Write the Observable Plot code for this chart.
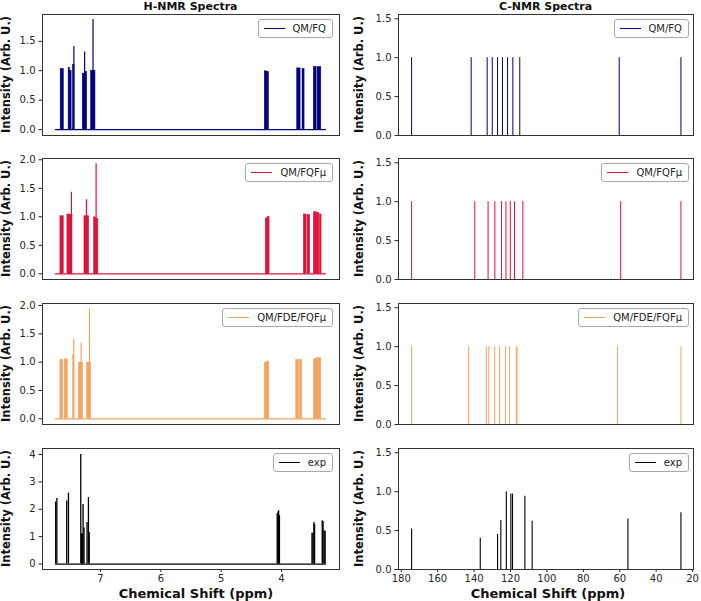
<!DOCTYPE html>
<html>
<head>
<meta charset="utf-8">
<script src="https://cdn.jsdelivr.net/npm/d3@7"></script>
<script src="https://cdn.jsdelivr.net/npm/@observablehq/plot@0.6"></script>
<style>
  body { margin: 0; background: #fff; font-family: "DejaVu Sans", sans-serif; }
  #fig { position: relative; width: 701px; height: 601px; overflow: hidden; background: #fff; }
  .panel { position: absolute; }
  .panel svg { overflow: visible; display: block; }
  .legend { position: absolute; height: 19px; box-sizing: border-box; border: 1px solid #a8a8a8; border-radius: 3px;
            background: rgba(255,255,255,0.85); display: flex; align-items: center; padding: 0 6px 0 5px;
            font-size: 10px; color: #222; white-space: nowrap; }
  .legend .sw { width: 21px; height: 0; border-top: 1.5px solid; margin-right: 8px; }
  #overlay { position: absolute; left: 0; top: 0; pointer-events: none; }
</style>
</head>
<body>
<div id="fig"></div>
<script>
// ---------------- data ----------------
// H-NMR: simulated spectra span (ppm)
const hRange = [7.746, 3.271];

// QM/FQ  : multiplet blocks [from ppm, to ppm, intensity] and sharp peaks [ppm, intensity]
const hFQBlocks = [
  [7.658, 7.608, 1.03], [7.527, 7.505, 1.05], [7.505, 7.478, 1.00], [7.454, 7.430, 1.10],
  [7.293, 7.262, 0.95], [7.258, 7.221, 0.98], [7.154, 7.083, 1.00],
  [4.277, 4.245, 0.99], [4.245, 4.211, 0.98], [3.740, 3.685, 1.04], [3.652, 3.619, 1.03],
  [3.464, 3.420, 1.06], [3.403, 3.342, 1.06]
];
const hFQPeaks = [[7.440, 1.41], [7.262, 1.32], [7.123, 1.87]];

// QM/FQFμ
const hFQFmuBlocks = [
  [7.663, 7.608, 1.01], [7.547, 7.497, 1.04], [7.497, 7.464, 1.03], [7.265, 7.188, 1.01],
  [7.106, 7.072, 0.99], [7.072, 7.035, 0.96],
  [4.262, 4.230, 0.97], [4.230, 4.199, 1.00], [3.630, 3.586, 1.04], [3.569, 3.526, 1.03],
  [3.464, 3.420, 1.08], [3.420, 3.375, 1.07], [3.364, 3.337, 1.04]
];
const hFQFmuPeaks = [[7.481, 1.43], [7.232, 1.30], [7.072, 1.93]];

// QM/FDE/FQFμ
const hFDEBlocks = [
  [7.663, 7.619, 1.04], [7.592, 7.542, 1.05], [7.452, 7.432, 1.12], [7.360, 7.288, 0.99],
  [7.222, 7.156, 0.99],
  [4.277, 4.240, 0.99], [4.240, 4.205, 1.01], [3.756, 3.713, 1.04], [3.696, 3.657, 1.04],
  [3.464, 3.420, 1.05], [3.420, 3.381, 1.07], [3.381, 3.342, 1.07]
];
const hFDEPeaks = [[7.443, 1.41], [7.320, 1.34], [7.182, 1.94]];

// experimental H-NMR line list
const hExpShift = [7.742, 7.722, 7.559, 7.530, 7.326, 7.312, 7.300, 7.288, 7.272,
                   7.222, 7.199, 7.186, 4.072, 4.060, 4.048, 4.035,
                   3.496, 3.480, 3.465, 3.453, 3.326, 3.312, 3.294, 3.278];
const hExpInt   = [2.27, 2.39, 2.30, 2.59, 4.00, 1.10, 1.10, 2.17, 1.32,
                   1.52, 2.43, 1.15, 1.83, 1.90, 1.95, 1.77,
                   1.12, 1.12, 1.52, 1.45, 1.58, 1.55, 1.22, 1.20];

// C-NMR line lists
const cFQShift     = [174.3, 141.6, 132.8, 130.0, 127.1, 124.4, 121.6, 118.7, 114.9, 60.3, 26.4];
const cFQInt       = [1, 1, 1, 1, 1, 1, 1, 1, 1, 1, 1];
const cFQFmuShift  = [174.3, 139.6, 132.3, 128.6, 124.9, 122.5, 120.1, 117.8, 113.2, 59.5, 26.4];
const cFQFmuInt    = [1, 1, 1, 1, 1, 1, 1, 1, 1, 1, 1];
const cFDEShift    = [174.3, 143.0, 133.3, 131.9, 128.7, 126.0, 122.7, 120.5, 116.8, 116.4, 61.2, 26.4];
const cFDEInt      = [1, 1, 1, 1, 1, 1, 1, 1, 1, 1, 1, 1];
const cExpShift    = [174.3, 136.6, 127.1, 125.3, 122.3, 119.8, 118.9, 112.1, 108.1, 55.5, 26.4];
const cExpInt      = [0.52, 0.40, 0.45, 0.63, 1.00, 0.97, 0.97, 0.94, 0.62, 0.65, 0.73];

// labels
const seriesNames = ["QM/FQ", "QM/FQFμ", "QM/FDE/FQFμ", "exp"];
const seriesColors = ["navy", "crimson", "sandybrown", "black"];
const colTitles = ["H-NMR Spectra", "C-NMR Spectra"];
const hTicks = [7, 6, 5, 4];
const cTicks = [180, 160, 140, 120, 100, 80, 60, 40, 20];
const yLabel = "Intensity (Arb. U.)";
const xLabel = "Chemical Shift (ppm)";

// ---------------- layout ----------------
const fig = document.getElementById("fig");
const rowTops = [14, 158, 303, 448];
const frameH = 121;
const cols = [
  {left: 0, width: 350, mL: 42, mR: 11, xDomain: [7.96, 3.04], ticks: hTicks},
  {left: 350, width: 351, mL: 48, mR: 8, xDomain: [181.5, 19.5], ticks: cTicks}
];
const hYDomains = [[-0.1, 1.955], [-0.1, 2.023], [-0.1, 2.035], [-0.2, 4.22]];
const hYTicks = [[0, 0.5, 1, 1.5], [0, 0.5, 1, 1.5, 2], [0, 0.5, 1, 1.5, 2], [0, 1, 2, 3, 4]];
const cYDomain = [0, 1.555];
const cYTicks = [0, 0.5, 1, 1.5];

function hMarks(blocks, peaks, color) {
  return [
    Plot.line(hRange.map(x => ({x, y: 0})), {x: "x", y: "y", stroke: color, strokeWidth: 1.2}),
    Plot.rect(blocks, {x1: d => d[0], x2: d => d[1], y1: 0, y2: d => d[2], fill: color, stroke: color, strokeWidth: 0.6}),
    Plot.ruleX(peaks, {x: d => d[0], y1: 0, y2: d => d[1], stroke: color, strokeWidth: 1.2})
  ];
}
function stickMarks(shift, inten, color, w) {
  const rows = shift.map((s, i) => ({s, v: inten[i]}));
  return [Plot.ruleX(rows, {x: "s", y1: 0, y2: "v", stroke: color, strokeWidth: w})];
}

const hData = [
  hMarks(hFQBlocks, hFQPeaks, seriesColors[0]),
  hMarks(hFQFmuBlocks, hFQFmuPeaks, seriesColors[1]),
  hMarks(hFDEBlocks, hFDEPeaks, seriesColors[2]),
  [Plot.line(hRange.map(x => ({x, y: 0})), {x: "x", y: "y", stroke: "black", strokeWidth: 1.2}),
   ...stickMarks(hExpShift, hExpInt, "black", 1.3)]
];
const cData = [
  stickMarks(cFQShift, cFQInt, seriesColors[0], 1),
  stickMarks(cFQFmuShift, cFQFmuInt, seriesColors[1], 1),
  stickMarks(cFDEShift, cFDEInt, seriesColors[2], 1),
  stickMarks(cExpShift, cExpInt, "black", 1.1)
];

const mT = 10;
for (let c = 0; c < 2; c++) {
  const col = cols[c];
  for (let r = 0; r < 4; r++) {
    const last = r === 3;
    const mB = last ? 26 : 3;
    const yDomain = c === 0 ? hYDomains[r] : cYDomain;
    const yTicks = c === 0 ? hYTicks[r] : cYTicks;
    const yFmt = (c === 0 && r === 3) ? d3.format("d") : d3.format(".1f");
    const marks = [];
    if (c === 1) marks.push(Plot.ruleY([0], {stroke: "#111", strokeWidth: 1.2}));
    marks.push(...(c === 0 ? hData[r] : cData[r]));
    marks.push(Plot.axisY({ticks: yTicks, tickFormat: yFmt, tickSize: 3.5, tickPadding: 3.5, label: null}));
    if (last) marks.push(Plot.axisX({ticks: col.ticks, tickFormat: d3.format("d"), tickSize: 3, tickPadding: 2, label: null}));
    marks.push(Plot.frame({stroke: "#333", strokeWidth: 1}));
    const p = Plot.plot({
      width: col.width,
      height: mT + frameH + mB,
      marginTop: mT, marginBottom: mB, marginLeft: col.mL, marginRight: col.mR,
      style: {fontFamily: "DejaVu Sans", fontSize: "10px", color: "#262626", background: "transparent", overflow: "visible"},
      x: {domain: col.xDomain, axis: last ? undefined : null},
      y: {domain: yDomain},
      marks
    });
    const wrap = document.createElement("div");
    wrap.className = "panel";
    wrap.style.left = col.left + "px";
    wrap.style.top = (rowTops[r] - mT) + "px";
    wrap.appendChild(p);
    fig.appendChild(wrap);

    // legend
    const lg = document.createElement("div");
    lg.className = "legend";
    const frameRight = col.left + col.width - col.mR;
    lg.style.right = (701 - (frameRight - (c === 0 ? 6 : 4))) + "px";
    lg.style.top = (rowTops[r] + 5) + "px";
    const sw = document.createElement("span");
    sw.className = "sw";
    sw.style.borderTopColor = seriesColors[r];
    const tx = document.createElement("span");
    tx.textContent = seriesNames[r];
    lg.appendChild(sw); lg.appendChild(tx);
    fig.appendChild(lg);
  }
}

// overlay with titles and axis labels
const ns = "http://www.w3.org/2000/svg";
const ov = document.createElementNS(ns, "svg");
ov.setAttribute("id", "overlay");
ov.setAttribute("width", 701); ov.setAttribute("height", 601);
fig.appendChild(ov);
function addText(str, x, y, size, rotate) {
  const t = document.createElementNS(ns, "text");
  t.textContent = str;
  t.setAttribute("x", x); t.setAttribute("y", y);
  t.setAttribute("text-anchor", "middle");
  t.setAttribute("font-family", "DejaVu Sans");
  t.setAttribute("font-weight", "bold");
  t.setAttribute("font-size", size);
  t.setAttribute("fill", "#111");
  if (rotate) t.setAttribute("transform", `rotate(-90 ${x} ${y})`);
  ov.appendChild(t);
}
addText(colTitles[0], 190.5, 9.5, 11);
addText(colTitles[1], 545.5, 9.5, 11);
addText(xLabel, 196, 598, 13);
addText(xLabel, 548, 598, 13);
for (let r = 0; r < 4; r++) {
  const cy = rowTops[r] + frameH / 2;
  addText(yLabel, 10.1, cy, 11.5, true);
  addText(yLabel, 362.9, cy, 11.5, true);
}
</script>
</body>
</html>
